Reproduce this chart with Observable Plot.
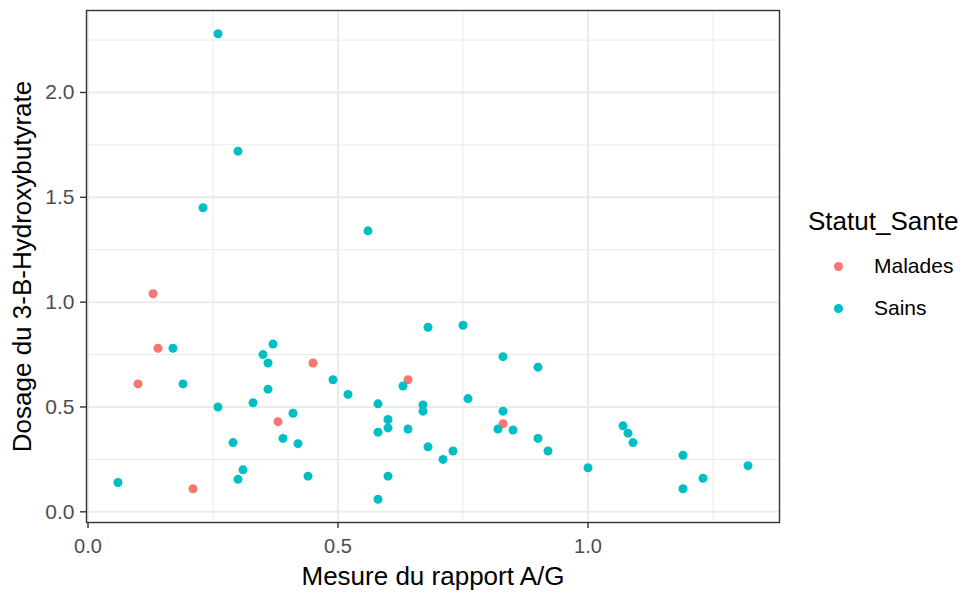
<!DOCTYPE html>
<html>
<head>
<meta charset="utf-8">
<script src="https://cdn.jsdelivr.net/npm/d3@7"></script>
<script src="https://cdn.jsdelivr.net/npm/@observablehq/plot@0.6"></script>
<style>
  html, body { margin: 0; padding: 0; background: #fff; }
  #wrap { position: relative; width: 974px; height: 595px; font-family: "Liberation Sans", Arial, sans-serif; }
  #legend { position: absolute; left: 808px; top: 205px; color: #000; }
  #legend .title { font-size: 26px; line-height: 32px; margin-bottom: 8px; }
  #legend .item { display: flex; align-items: center; height: 42px; font-size: 21px; }
  #legend .dot { width: 9px; height: 9px; border-radius: 50%; margin-left: 26px; margin-right: 31px; }
</style>
</head>
<body>
<div id="wrap"></div>
<script>
const groupes = ["Malades", "Sains"];
const couleurs = ["#F8766D", "#00BFC4"];

const maladesRapportAG = [0.13, 0.14, 0.10, 0.21, 0.45, 0.38, 0.64, 0.83];
const maladesHydroxy   = [1.04, 0.78, 0.61, 0.11, 0.71, 0.43, 0.63, 0.42];

const sainsRapportAG = [0.26, 0.30, 0.23, 0.56, 0.17, 0.19, 0.06, 0.26, 0.29, 0.30,
  0.31, 0.33, 0.35, 0.36, 0.37, 0.36, 0.41, 0.39, 0.42, 0.44,
  0.49, 0.52, 0.58, 0.60, 0.60, 0.58, 0.64, 0.60, 0.58, 0.63,
  0.68, 0.75, 0.83, 0.90, 0.76, 0.67, 0.67, 0.83, 0.82, 0.85,
  0.68, 0.71, 0.73, 0.90, 0.92, 1.00, 1.07, 1.08, 1.09, 1.19,
  1.19, 1.23, 1.32];
const sainsHydroxy = [2.28, 1.72, 1.45, 1.34, 0.78, 0.61, 0.14, 0.50, 0.33, 0.155,
  0.20, 0.52, 0.75, 0.71, 0.80, 0.585, 0.47, 0.35, 0.325, 0.17,
  0.63, 0.56, 0.515, 0.44, 0.40, 0.38, 0.395, 0.17, 0.06, 0.60,
  0.88, 0.89, 0.74, 0.69, 0.54, 0.51, 0.48, 0.48, 0.395, 0.39,
  0.31, 0.25, 0.29, 0.35, 0.29, 0.21, 0.41, 0.375, 0.33, 0.27,
  0.11, 0.16, 0.22];

const xMajor = [0, 0.5, 1.0];
const xMinor = [0.25, 0.75, 1.25];
const yMajor = [0, 0.5, 1.0, 1.5, 2.0];
const yMinor = [0.25, 0.75, 1.25, 1.75, 2.25];

const data = [
  ...maladesRapportAG.map((x, i) => ({x, y: maladesHydroxy[i], g: groupes[0]})),
  ...sainsRapportAG.map((x, i) => ({x, y: sainsHydroxy[i], g: groupes[1]}))
];

const chart = Plot.plot({
  width: 974,
  height: 595,
  marginLeft: 86,
  marginRight: 195,
  marginTop: 10,
  marginBottom: 73,
  style: {fontFamily: "Liberation Sans, Arial, sans-serif", background: "#fff"},
  x: {domain: [-0.003, 1.383], label: null},
  y: {domain: [-0.051, 2.391], label: null},
  color: {domain: groupes, range: couleurs},
  marks: [
    Plot.ruleX(xMinor, {stroke: "#ebebeb", strokeWidth: 1, strokeOpacity: 1}),
    Plot.ruleY(yMinor, {stroke: "#ebebeb", strokeWidth: 1, strokeOpacity: 1}),
    Plot.ruleX(xMajor, {stroke: "#ebebeb", strokeWidth: 2, strokeOpacity: 1}),
    Plot.ruleY(yMajor, {stroke: "#ebebeb", strokeWidth: 2, strokeOpacity: 1}),
    Plot.dot(data, {x: "x", y: "y", fill: "g", r: 4.5, stroke: null}),
    Plot.frame({stroke: "#333333", strokeWidth: 1.4}),
    Plot.axisX(xMajor, {tickSize: 6, tickPadding: 10, stroke: "#333333", strokeWidth: 1.4, fill: "#4d4d4d", fontSize: 20, tickFormat: d3.format(".1f"), label: null}),
    Plot.axisY(yMajor, {tickSize: 6, tickPadding: 6, stroke: "#333333", strokeWidth: 1.4, fill: "#4d4d4d", fontSize: 21, tickFormat: d3.format(".1f"), label: null}),
    Plot.text(["Mesure du rapport A/G"], {frameAnchor: "bottom", dy: 62, fontSize: 26, fill: "#000", textAnchor: "middle", text: d => d}),
    Plot.text(["Dosage du 3-B-Hydroxybutyrate"], {frameAnchor: "left", dx: -64, rotate: -90, fontSize: 26, fill: "#000", textAnchor: "middle", text: d => d})
  ]
});

const wrap = document.getElementById("wrap");
wrap.appendChild(chart);
const leg = document.createElement("div");
leg.id = "legend";
leg.innerHTML = `<div class="title">Statut_Sante</div>` +
  groupes.map((g, i) => `<div class="item"><span class="dot" style="background:${couleurs[i]}"></span><span>${g}</span></div>`).join("");
wrap.appendChild(leg);
</script>
</body>
</html>
